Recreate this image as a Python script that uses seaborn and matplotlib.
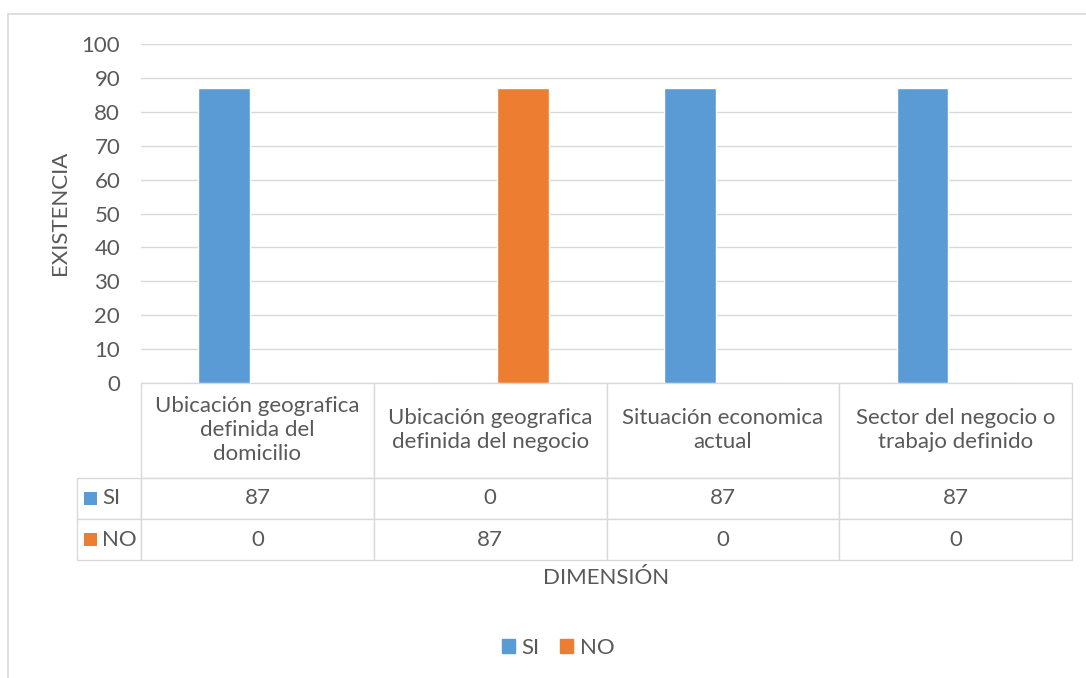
import pandas as pd
import numpy as np
import matplotlib.pyplot as plt
import seaborn as sns
from matplotlib.patches import Rectangle, Patch

categories = ["Ubicación geografica\ndefinida del\ndomicilio",
              "Ubicación geografica\ndefinida del negocio",
              "Situación economica\nactual",
              "Sector del negocio o\ntrabajo definido"]
series = ["SI", "NO"]
si_vals = [87, 0, 87, 87]
no_vals = [0, 87, 0, 0]
yticks = list(range(0, 101, 10))

blue = "#5B9BD5"
orange = "#ED7D31"
gris = "#595959"
linea = "#D9D9D9"

df = pd.DataFrame({
    "cat": categories * 2,
    "serie": ["SI"] * 4 + ["NO"] * 4,
    "val": si_vals + no_vals,
})

sns.set_theme(style="white")
plt.rcParams['font.family'] = ['Lato', 'DejaVu Sans']
fs = 16

W, H = 1086, 678
fig = plt.figure(figsize=(W / 100, H / 100), dpi=100)
# borde del grafico (estilo excel)
fig.patches.append(Rectangle((8 / W, -0.1), 1.2, 1.1 - 14 / H, transform=fig.transFigure,
                             fill=False, edgecolor=linea, lw=1.2))

ax = fig.add_axes([141 / W, 1 - 383 / H, 931 / W, 339 / H])
sns.barplot(data=df, x="cat", y="val", hue="serie", hue_order=series,
            palette=[blue, orange], saturation=1, width=0.57, gap=0.22,
            legend=False, ax=ax)

ax.set_xlim(-0.5, 3.5)
ax.set_ylim(0, 100)
ax.set_yticks(yticks)
ax.yaxis.grid(True, color=linea, lw=1)
ax.set_axisbelow(True)
for s in ax.spines.values():
    s.set_visible(False)
ax.set_xticks([])
ax.set_xlabel("")
ax.set_ylabel("")
ax.tick_params(axis="y", length=0, pad=15, labelsize=fs, labelcolor=gris)

# tabla de datos
filas = [[""] + categories,
         ["SI"] + [str(v) for v in si_vals],
         ["NO"] + [str(v) for v in no_vals]]
col0 = 64 / 931
tabla = ax.table(cellText=filas, cellLoc="center",
                 colWidths=[col0] + [0.25] * 4,
                 bbox=[-col0, -177 / 339, 1 + col0, 177 / 339])
tabla.auto_set_font_size(False)
alturas = [95, 41, 41]
for (r, c), cell in tabla.get_celld().items():
    cell.set_height(alturas[r])
    cell.set_edgecolor(linea)
    cell.set_linewidth(1)
    cell.get_text().set_fontsize(fs)
    cell.get_text().set_color(gris)
    cell.get_text().set_linespacing(1.25)
    if c == 0:
        cell.get_text().set_horizontalalignment("left")
        cell.PAD = 0.39
tabla[0, 0].visible_edges = ""

# cuadritos de leyenda en la tabla
for i, col in enumerate([blue, orange]):
    yc = -(95 + 41 * i + 20.5) / 339
    ax.add_patch(Rectangle((-57 / 931, yc - 6.5 / 339), 13 / 931, 13 / 339,
                           transform=ax.transAxes, clip_on=False,
                           facecolor=col, edgecolor="none"))

fig.text(606 / W, 1 - 578 / H, "DIMENSIÓN", ha="center", va="center",
         fontsize=fs, color=gris)
fig.text(60 / W, 1 - 213 / H, "EXISTENCIA", ha="center", va="center",
         rotation=90, fontsize=fs, color=gris)

fig.legend(handles=[Patch(color=blue), Patch(color=orange)], labels=series,
           loc="center", bbox_to_anchor=(558 / W, 1 - 648 / H), ncol=2,
           frameon=False, handlelength=0.6, handleheight=0.6,
           handletextpad=0.3, columnspacing=0.9, fontsize=fs,
           labelcolor=gris)

fig.savefig("out.png", dpi=100)
